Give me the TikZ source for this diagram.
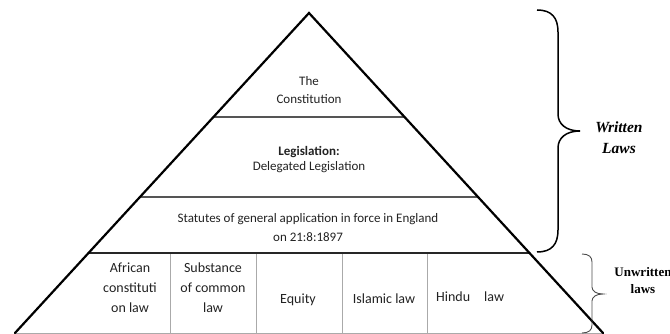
\documentclass[tikz,border=0pt]{standalone}
\usepackage{fontspec}
\usetikzlibrary{calc}
\setmainfont{Carlito}
\newfontfamily\tnr{Liberation Serif}
\definecolor{txt}{HTML}{222222}
\definecolor{midline}{HTML}{555555}
\definecolor{cellline}{HTML}{AAAAAA}
\tikzset{
  side/.style={draw=black, line width=2.2pt, line cap=round, line join=miter},
  tier/.style={draw=midline, line width=1.1pt},
  rowtop/.style={draw=black!85, line width=1.4pt},
  cellsep/.style={draw=cellline, line width=1pt},
  bigbrace/.style={draw=black, line width=1.5pt},
  smallbrace/.style={draw=black!70, line width=0.9pt},
  uptext/.style={text=txt, align=center, inner sep=0pt, font=\fontsize{13}{18}\selectfont},
  celltext/.style={text=txt, align=center, inner sep=0pt, font=\fontsize{14}{20}\selectfont},
  sidetext/.style={text=black, align=center, inner sep=0pt},
}
\begin{document}
\begin{tikzpicture}[x=1pt,y=-1pt]
\useasboundingbox (0,0) rectangle (670,334);
% triangle corners
\coordinate (A) at (309,13);
\coordinate (BL) at (15,333);
\coordinate (BR) at (603,333);
% tier end points
\coordinate (c1l) at ($(A)!0.325!(BL)$);
\coordinate (c1r) at ($(A)!0.325!(BR)$);
\coordinate (c2l) at ($(A)!0.575!(BL)$);
\coordinate (c2r) at ($(A)!0.575!(BR)$);
\coordinate (c3l) at ($(A)!0.75!(BL)$);
\coordinate (c3r) at ($(A)!0.75!(BR)$);
% base and cell dividers
\draw[cellsep] (BL) -- (BR);
\foreach \i/\xx in {1/170,2/256,3/342,4/427}{
  \coordinate (d\i t) at (\xx,253);
  \coordinate (d\i b) at (\xx,333);
  \draw[cellsep] (d\i t) -- (d\i b);
}
\draw[tier] (c1l) -- (c1r);
\draw[tier] (c2l) -- (c2r);
\draw[rowtop] (c3l) -- (c3r);
\draw[side] (BL) -- (A) -- (BR);
% texts
\node[uptext] (const) at (309,90) {The\\Constitution};
\node[uptext, font=\fontsize{13}{15}\selectfont] (legis) at (309,160) {\textbf{Legislation:}\\Delegated Legislation};
\node[uptext, font=\fontsize{13}{19}\selectfont] (stat) at (308,228) {Statutes of general application in force in England\\on 21:8:1897};
\node[celltext] (afr) at (130,288) {African\\constituti\\on law};
\node[celltext] (sub) at (213,288) {Substance\\of common\\law};
\node[celltext, anchor=base] (eq) at (298,303) {Equity};
\node[celltext, anchor=base] (isl) at (384,303) {Islamic law};
\node[celltext, anchor=base west] (hin) at (436,301) {Hindu\hspace{14pt}law};
% braces
\coordinate (wb1) at (537,10);
\coordinate (wtip) at (580,131);
\coordinate (wb2) at (537,252);
\draw[bigbrace] (wb1) .. controls (552,10) and (558,18) .. (558,32) -- (558,114)
  .. controls (558,124) and (566,131) .. (wtip)
  .. controls (566,131) and (558,138) .. (558,148) -- (558,230)
  .. controls (558,244) and (552,252) .. (wb2);
\coordinate (ub1) at (582,254);
\coordinate (utip) at (603,294);
\coordinate (ub2) at (582,333);
\draw[smallbrace] (ub1) .. controls (589,254) and (592,257) .. (592,262) -- (592,287)
  .. controls (592,291) and (596,294) .. (utip)
  .. controls (596,294) and (592,297) .. (592,301) -- (592,325)
  .. controls (592,330) and (589,333) .. (ub2);
\node[sidetext, font=\tnr\bfseries\itshape\fontsize{15.5}{21}\selectfont] (wl) at (619,138) {Written\\Laws};
\node[sidetext, font=\tnr\bfseries\fontsize{13}{17}\selectfont] (ul) at (643,281) {Unwritten\\laws};
\end{tikzpicture}
\end{document}
